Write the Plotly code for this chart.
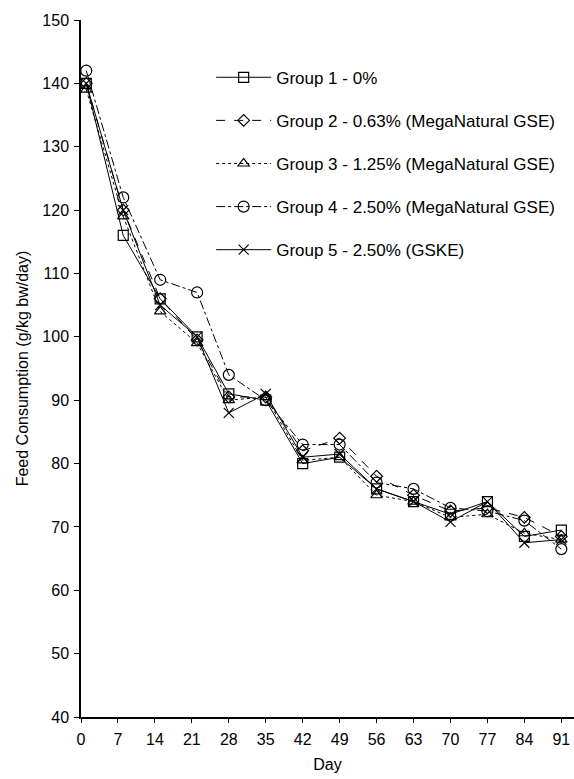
import plotly.graph_objects as go

days = [1, 8, 15, 22, 28, 35, 42, 49, 56, 63, 70, 77, 84, 91]

group1 = [140, 116, 106, 100, 91, 90, 80, 81, 76, 74, 72, 74, 68.5, 69.5]
group2 = [140, 120, 106, 99.5, 90.5, 90.5, 82, 84, 78, 75, 72.5, 73, 71.5, 68.5]
group3 = [139, 119, 104, 99, 90, 90.5, 80.5, 81, 75, 74, 71.5, 72, 69, 68]
group4 = [142, 122, 109, 107, 94, 90, 83, 83, 77, 76, 73, 72.5, 71, 66.5]
group5 = [140, 120, 105, 100, 88, 91, 81, 81.5, 76, 74, 70.8, 74, 67.5, 68]

x_ticks = [0, 7, 14, 21, 28, 35, 42, 49, 56, 63, 70, 77, 84, 91]
y_ticks = [40, 50, 60, 70, 80, 90, 100, 110, 120, 130, 140, 150]

names = [
    "Group 1 - 0%",
    "Group 2 - 0.63% (MegaNatural GSE)",
    "Group 3 - 1.25% (MegaNatural GSE)",
    "Group 4 - 2.50% (MegaNatural GSE)",
    "Group 5 - 2.50% (GSKE)",
]
series = [group1, group2, group3, group4, group5]
symbols = ["square-open", "diamond-open", "triangle-up-open", "circle-open", "x-thin"]
dashes = ["solid", "dash", "dot", "dashdot", "solid"]
sizes = [10, 9, 10, 11, 10]

fig = go.Figure()
for i, (nm, ys, sym, dsh, sz) in enumerate(zip(names, series, symbols, dashes, sizes)):
    fig.add_trace(go.Scatter(
        x=days, y=ys, name=nm, mode="lines+markers",
        legendgroup=f"g{i}",
        line=dict(color="black", width=1, dash=dsh),
        marker=dict(symbol=sym, size=sz, color="black",
                    line=dict(color="black", width=1.2)),
    ))

font_family = "Liberation Sans, Arial, sans-serif"
fig.update_layout(
    width=574, height=779,
    margin=dict(l=81, r=0, t=20, b=62),
    paper_bgcolor="white", plot_bgcolor="white",
    font=dict(family=font_family, size=16, color="black"),
    showlegend=True,
    legend=dict(
        x=0.264, y=0.943, xanchor="left", yanchor="top",
        bgcolor="rgba(0,0,0,0)", borderwidth=0,
        font=dict(family=font_family, size=17, color="black"),
        tracegroupgap=18, itemwidth=55,
    ),
    xaxis=dict(
        range=[0, 93.4], tickmode="array", tickvals=x_ticks,
        showline=True, linecolor="black", linewidth=1.5,
        ticks="outside", ticklen=4, tickcolor="black", showgrid=False, zeroline=False,
        title=dict(text="Day", standoff=12, font=dict(size=16)),
        tickfont=dict(size=16), ticklabelstandoff=3,
    ),
    yaxis=dict(
        range=[40, 150], tickmode="array", tickvals=y_ticks,
        showline=True, linecolor="black", linewidth=1.5,
        ticks="outside", ticklen=5, tickcolor="black", showgrid=False, zeroline=False,
        title=dict(text="Feed Consumption (g/kg bw/day)", standoff=10, font=dict(size=16)),
        tickfont=dict(size=16), ticklabelstandoff=2,
    ),
)

fig.write_html("out.html")
